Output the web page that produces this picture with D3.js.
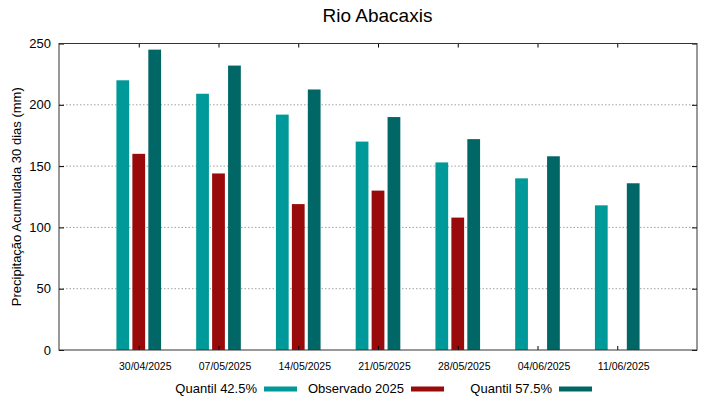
<!DOCTYPE html>
<html>
<head>
<meta charset="utf-8">
<script src="https://cdn.jsdelivr.net/npm/d3@7"></script>
<style>
  body { margin: 0; background: #fff; }
  svg { font-family: "Liberation Sans", Arial, sans-serif; }
</style>
</head>
<body>
<div id="chart"></div>
<script>
var width = 719,
    height = 399;

var margin = {top: 43.5, right: 22, bottom: 49, left: 59};

var dates = ["30/04/2025", "07/05/2025", "14/05/2025", "21/05/2025", "28/05/2025", "04/06/2025", "11/06/2025"];
var q425 = [220, 209, 192, 170, 153, 140, 118];
var observado = [160, 144, 119, 130, 108, null, null];
var q575 = [245, 232, 212.5, 190, 172, 158, 136];

var seriesNames = ["Quantil 42.5%", "Observado 2025", "Quantil 57.5%"];
var color = ["#009999", "#990a0a", "#006666"];
var yTicks = [0, 50, 100, 150, 200, 250];

var series = [q425, observado, q575];
var offsets = [-0.2, 0, 0.2];
var barW = 0.16;

var x = d3.scaleLinear()
    .domain([-1, dates.length])
    .range([margin.left, width - margin.right]);

var y = d3.scaleLinear()
    .domain([0, 250])
    .range([height - margin.bottom, margin.top]);

var svg = d3.select("#chart").append("svg")
    .attr("width", width)
    .attr("height", height);

// title
svg.append("text")
    .attr("x", 377.5)
    .attr("y", 22)
    .attr("text-anchor", "middle")
    .style("font-size", "19px")
    .text("Rio Abacaxis");

// grid (dotted)
svg.append("g")
  .selectAll("line")
  .data(yTicks.filter(function(d) { return d > 0 && d < 250; }))
  .enter().append("line")
    .attr("x1", x.range()[0])
    .attr("x2", x.range()[1])
    .attr("y1", function(d) { return y(d); })
    .attr("y2", function(d) { return y(d); })
    .attr("stroke", "#a0a0a0")
    .attr("stroke-width", 1)
    .attr("stroke-dasharray", "1.5,2");

// bars
series.forEach(function(vals, s) {
  svg.append("g")
    .selectAll("rect")
    .data(vals.map(function(v, i) { return {i: i, v: v}; }).filter(function(d) { return d.v != null; }))
    .enter().append("rect")
      .attr("x", function(d) { return x(d.i + offsets[s] - barW / 2); })
      .attr("width", x(barW) - x(0))
      .attr("y", function(d) { return y(d.v); })
      .attr("height", function(d) { return y(0) - y(d.v); })
      .attr("fill", color[s]);
});

// axes with mirrored ticks
var yAxisL = d3.axisLeft(y).tickValues(yTicks).tickSize(-5).tickPadding(8);
var yAxisR = d3.axisRight(y).tickValues(yTicks).tickSize(-5).tickFormat("");
var xAxisB = d3.axisBottom(x).tickValues(d3.range(dates.length)).tickSize(-4).tickPadding(13)
    .tickFormat(function(i) { return dates[i]; });
var xAxisT = d3.axisTop(x).tickValues(d3.range(dates.length)).tickSize(-4).tickFormat("");

function styleAxis(g) {
  g.select(".domain").remove();
  g.selectAll(".tick line").attr("stroke", "#000");
  g.selectAll("text").attr("fill", "#000");
}

svg.append("g")
    .attr("transform", "translate(" + margin.left + ",0)")
    .call(yAxisL).call(styleAxis)
    .selectAll("text").style("font-size", "13px");

svg.append("g")
    .attr("transform", "translate(" + (width - margin.right) + ",0)")
    .call(yAxisR).call(styleAxis);

svg.append("g")
    .attr("transform", "translate(0," + (height - margin.bottom) + ")")
    .call(xAxisB).call(styleAxis)
    .selectAll("text")
      .style("font-size", "10.5px")
      .attr("dx", 6);

svg.append("g")
    .attr("transform", "translate(0," + margin.top + ")")
    .call(xAxisT).call(styleAxis);

// border
svg.append("rect")
    .attr("x", x.range()[0])
    .attr("y", y.range()[1])
    .attr("width", x.range()[1] - x.range()[0])
    .attr("height", y.range()[0] - y.range()[1])
    .attr("fill", "none")
    .attr("stroke", "#333")
    .attr("stroke-width", 1);

// y label
svg.append("text")
    .attr("transform", "translate(21," + ((y.range()[0] + y.range()[1]) / 2) + ") rotate(-90)")
    .attr("text-anchor", "middle")
    .style("font-size", "13px")
    .text("Precipitação Acumulada 30 dias (mm)");

// legend
var legendTextRight = [257, 404, 552];
var legend = svg.append("g");
seriesNames.forEach(function(name, s) {
  legend.append("text")
      .attr("x", legendTextRight[s])
      .attr("y", 393)
      .attr("text-anchor", "end")
      .style("font-size", "13px")
      .text(name);
  legend.append("line")
      .attr("x1", legendTextRight[s] + 7)
      .attr("x2", legendTextRight[s] + 40)
      .attr("y1", 389)
      .attr("y2", 389)
      .attr("stroke", color[s])
      .attr("stroke-width", 5);
});
</script>
</body>
</html>
